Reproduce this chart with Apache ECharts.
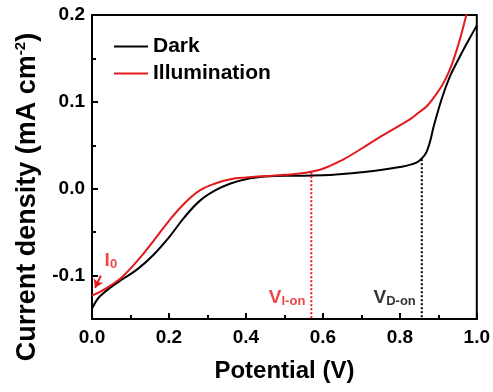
<!DOCTYPE html>
<html>
<head>
<meta charset="utf-8">
<script src="https://cdn.jsdelivr.net/npm/echarts@6/dist/echarts.min.js"></script>
<style>
  html, body { margin: 0; padding: 0; background: #fff; }
  #chart { width: 493px; height: 392px; }
</style>
</head>
<body>
<div id="chart"></div>
<script>
// 数据
const potential = [0, 0.01, 0.02, 0.05, 0.08, 0.12, 0.16, 0.2, 0.24, 0.28, 0.32, 0.36, 0.4, 0.45, 0.5, 0.55, 0.6, 0.65, 0.7, 0.75, 0.8, 0.83, 0.85, 0.87, 0.89, 0.91, 0.93, 0.95, 0.97, 0.99, 1.0];
const dark = [-0.138, -0.130, -0.124, -0.113, -0.104, -0.092, -0.076, -0.056, -0.033, -0.014, -0.002, 0.006, 0.011, 0.0140, 0.015, 0.015, 0.0155, 0.017, 0.019, 0.0215, 0.025, 0.028, 0.032, 0.043, 0.075, 0.105, 0.129, 0.147, 0.164, 0.180, 0.188];
const illum = [-0.123, -0.121, -0.119, -0.111, -0.101, -0.082, -0.060, -0.037, -0.017, -0.002, 0.006, 0.011, 0.013, 0.0145, 0.016, 0.018, 0.023, 0.033, 0.046, 0.060, 0.073, 0.081, 0.088, 0.095, 0.106, 0.119, 0.137, 0.163, 0.195, 0.23, 0.25];

const xMajor = [0, 0.2, 0.4, 0.6, 0.8, 1.0];
const xMinor = [0.1, 0.3, 0.5, 0.7, 0.9];
const yMajor = [-0.1, 0, 0.1, 0.2];
const yMinor = [-0.05, 0.05, 0.15];

// 起始电位 (dotted verticals)
const vIon = [[0.57, 0.019], [0.57, -0.15]];
const vDon = [[0.857, 0.034], [0.857, -0.15]];
// 标注
const i0Arrow = [[0.023, -0.100], [0.008, -0.114]];
const labelPts = [[0.049, -0.083], [0.57, -0.125], [0.857, -0.125]];

const FONT = "Arial, 'Liberation Sans', sans-serif";
const myChart = echarts.init(document.getElementById('chart'));

const tickFmt = v => v.toFixed(1);

const option = {
  animation: false,
  backgroundColor: '#fff',
  textStyle: { fontFamily: FONT },
  grid: {
    left: 92, right: 16, top: 15, bottom: 73,
    show: true, borderColor: '#000', borderWidth: 2
  },
  legend: {
    data: ['Dark', 'Illumination'],
    orient: 'vertical',
    left: 108, top: 31,
    itemWidth: 34, itemHeight: 14, itemGap: 6,
    itemStyle: { opacity: 0 },
    textStyle: { fontSize: 21, fontWeight: 'bold', color: '#000', fontFamily: FONT }
  },
  xAxis: [
    {
      type: 'value', min: 0, max: 1,
      name: 'Potential (V)', nameLocation: 'middle', nameGap: 40,
      nameTextStyle: { fontSize: 24, fontWeight: 'bold', color: '#000', fontFamily: FONT },
      axisLine: { onZero: false, lineStyle: { color: '#000', width: 2 } },
      axisTick: { inside: true, length: 6, lineStyle: { width: 2 }, customValues: xMajor },
      axisLabel: { fontSize: 19, fontWeight: 'bold', color: '#000', margin: 9, customValues: xMajor, formatter: tickFmt, fontFamily: FONT },
      splitLine: { show: false }
    },
    {
      type: 'value', min: 0, max: 1, position: 'bottom', offset: 0,
      axisLine: { show: false, onZero: false },
      axisTick: { inside: true, length: 4, lineStyle: { width: 2, color: '#000' }, customValues: xMinor },
      axisLabel: { show: false },
      splitLine: { show: false }
    }
  ],
  yAxis: [
    {
      type: 'value', min: -0.15, max: 0.2,
      name: 'Current density (mA cm{sup|-2})', nameLocation: 'middle', nameGap: 49,
      nameTextStyle: {
        fontSize: 27, fontWeight: 'bold', color: '#000', fontFamily: FONT,
        padding: [0, 60, 0, 0],
        rich: { sup: { fontSize: 15, fontWeight: 'bold', color: '#000', padding: [0, 0, 14, 0], fontFamily: FONT } }
      },
      axisLine: { onZero: false, lineStyle: { color: '#000', width: 2 } },
      axisTick: { inside: true, length: 6, lineStyle: { width: 2 }, customValues: yMajor },
      axisLabel: { fontSize: 19, fontWeight: 'bold', color: '#000', margin: 7, customValues: yMajor, formatter: tickFmt, fontFamily: FONT },
      splitLine: { show: false }
    },
    {
      type: 'value', min: -0.15, max: 0.2, position: 'left', offset: 0,
      axisLine: { show: false, onZero: false },
      axisTick: { inside: true, length: 4, lineStyle: { width: 2, color: '#000' }, customValues: yMinor },
      axisLabel: { show: false },
      splitLine: { show: false }
    }
  ],
  series: [
    {
      name: 'Dark', type: 'line', smooth: 0.4, symbol: 'none', clip: true,
      lineStyle: { color: '#000', width: 2 }, itemStyle: { color: '#000' },
      data: potential.map((x, i) => [x, dark[i]]),
      z: 3
    },
    {
      name: 'Illumination', type: 'line', smooth: 0.4, symbol: 'none', clip: true,
      lineStyle: { color: '#e31a1c', width: 2 }, itemStyle: { color: '#e31a1c' },
      data: potential.map((x, i) => [x, illum[i]]),
      z: 4,
      markLine: {
        silent: true, symbol: ['none', 'arrow'], symbolSize: 8,
        label: { show: false },
        lineStyle: { color: '#e31a1c', width: 2, type: 'solid' },
        data: [[{ coord: i0Arrow[0] }, { coord: i0Arrow[1] }]]
      }
    },
    {
      name: 'vIon', type: 'line', symbol: 'none',
      lineStyle: { color: '#e31a1c', width: 2, type: [2, 2] },
      data: vIon
    },
    {
      name: 'vDon', type: 'line', symbol: 'none',
      lineStyle: { color: '#000', width: 2, type: [2, 2] },
      data: vDon
    },
    {
      name: 'labels', type: 'scatter', symbolSize: 0, silent: true,
      data: [
        { value: labelPts[0], label: { position: 'inside', color: '#e31a1c', formatter: 'I{sub|0}' } },
        { value: labelPts[1], label: { position: 'left', distance: 6, color: '#e31a1c', formatter: 'V{sub|I-on}' } },
        { value: labelPts[2], label: { position: 'left', distance: 6, color: '#000', formatter: 'V{sub|D-on}' } }
      ],
      label: {
        show: true, fontSize: 19, fontWeight: 'bold', fontFamily: FONT,
        rich: { sub: { fontSize: 13, fontWeight: 'bold', padding: [8, 0, 0, 0], fontFamily: FONT } }
      }
    }
  ]
};

myChart.setOption(option);
window.addEventListener('resize', () => { myChart.resize(); });
</script>
</body>
</html>
